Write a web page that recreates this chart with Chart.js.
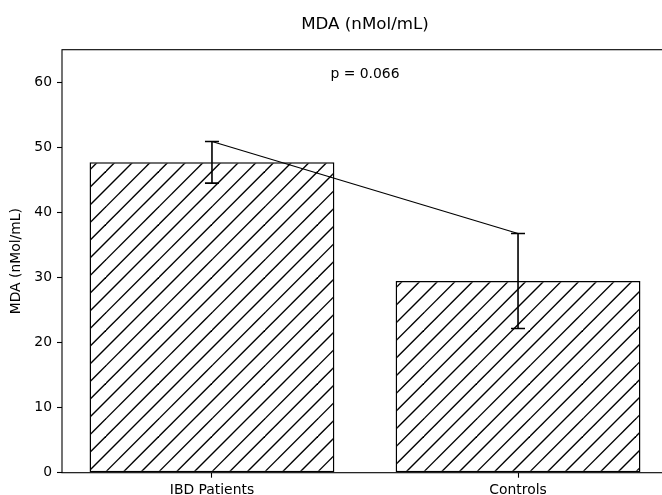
<!DOCTYPE html>
<html>
<head>
<meta charset="utf-8">
<script src="https://cdn.jsdelivr.net/npm/chart.js@4.4.1/dist/chart.umd.min.js"></script>
<style>
    html, body { margin: 0; padding: 0; background: #fff; overflow: hidden; }
    canvas { display: block; }
</style>
</head>
<body>
<canvas id="grafica" width="680" height="495"></canvas>
<script>
const categorias = ["IBD Patients", "Controls"];
const medias = [47.7, 29.45];
const errores = [3.2, 7.3];
const ticksY = [0, 10, 20, 30, 40, 50, 60];
const titulo = "MDA (nMol/mL)";
const tituloY = "MDA (nMol/mL)";
const textoP = "p = 0.066";

const fuente = { family: "'DejaVu Sans'", size: 13.9 };

function crearRayado(ctx) {
    // "//" hatch, 3 lines per 53px tile
    const tam = 53;
    const paso = tam / 3;
    const c = document.createElement("canvas");
    c.width = tam;
    c.height = tam;
    const g = c.getContext("2d");
    g.fillStyle = "#fff";
    g.fillRect(0, 0, tam, tam);
    g.strokeStyle = "#000";
    g.lineWidth = 1.4;
    for (let k = -1; k <= 7; k++) {
        const d = 12.3 + k * paso;
        g.beginPath();
        g.moveTo(d + 10, -10);
        g.lineTo(-10, d + 10);
        g.stroke();
    }
    return ctx.createPattern(c, "repeat");
}

const extras = {
    id: "extras",
    afterDatasetsDraw(chart) {
        const { ctx, chartArea, scales } = chart;
        ctx.save();
        ctx.strokeStyle = "#000";

        // barras de error
        ctx.lineWidth = 1.6;
        medias.forEach((m, i) => {
            const x = scales.x.getPixelForValue(i);
            const yA = scales.y.getPixelForValue(m + errores[i]);
            const yB = scales.y.getPixelForValue(m - errores[i]);
            ctx.beginPath();
            ctx.moveTo(x, yA);
            ctx.lineTo(x, yB);
            ctx.moveTo(x - 7, yA);
            ctx.lineTo(x + 7, yA);
            ctx.moveTo(x - 7, yB);
            ctx.lineTo(x + 7, yB);
            ctx.stroke();
        });

        // marco
        ctx.lineWidth = 1.1;
        ctx.strokeRect(chartArea.left, chartArea.top, chartArea.width, chartArea.height);

        // textos
        const cx = (chartArea.left + chartArea.right) / 2;
        ctx.fillStyle = "#000";
        ctx.textAlign = "center";
        ctx.textBaseline = "alphabetic";
        ctx.font = "16.7px 'DejaVu Sans'";
        ctx.fillText(titulo, cx, 29.3);
        ctx.font = "13.9px 'DejaVu Sans'";
        ctx.fillText(textoP, cx, chartArea.top + 28.6);
        ctx.restore();
    }
};

document.addEventListener("DOMContentLoaded", () => {
    const canvas = document.getElementById("grafica");
    const ctx = canvas.getContext("2d");
    const rayado = crearRayado(ctx);

    new Chart(canvas, {
        data: {
            datasets: [
                {
                    type: "line",
                    order: 1,
                    data: medias.map((m, i) => ({ x: i, y: m + errores[i] })),
                    borderColor: "#000",
                    borderWidth: 1.2,
                    pointRadius: 0,
                    fill: false,
                    tension: 0
                },
                {
                    type: "bar",
                    order: 2,
                    data: medias.map((m, i) => ({ x: i, y: m })),
                    backgroundColor: rayado,
                    borderColor: "#000",
                    borderWidth: 1.5,
                    borderSkipped: false,
                    barPercentage: 0.8,
                    categoryPercentage: 1
                }
            ]
        },
        options: {
            responsive: false,
            animation: false,
            layout: {
                padding: { top: 49.7, right: 12, left: 0, bottom: 0 }
            },
            plugins: {
                legend: { display: false },
                title: { display: false },
                tooltip: { enabled: false }
            },
            scales: {
                x: {
                    type: "linear",
                    min: -0.49,
                    max: 1.49,
                    offset: false,
                    afterBuildTicks: (scale) => {
                        scale.ticks = categorias.map((_, i) => ({ value: i }));
                    },
                    afterFit: (scale) => {
                        scale.height = 22.3;
                    },
                    border: { display: false },
                    grid: {
                        drawOnChartArea: false,
                        offset: false,
                        tickLength: 5,
                        tickColor: "#000",
                        tickWidth: 1.1
                    },
                    ticks: {
                        color: "#000",
                        font: fuente,
                        padding: 4,
                        maxRotation: 0,
                        autoSkip: false,
                        callback: (v) => categorias[v]
                    }
                },
                y: {
                    min: 0,
                    max: 65,
                    afterBuildTicks: (scale) => {
                        scale.ticks = ticksY.map((v) => ({ value: v }));
                    },
                    afterFit: (scale) => {
                        scale.width = 62;
                    },
                    border: { display: false },
                    grid: {
                        drawOnChartArea: false,
                        tickLength: 5,
                        tickColor: "#000",
                        tickWidth: 1.1
                    },
                    ticks: {
                        color: "#000",
                        font: fuente,
                        padding: 5
                    },
                    title: {
                        display: true,
                        text: tituloY,
                        color: "#000",
                        font: fuente,
                        padding: { top: 8, bottom: 0 }
                    }
                }
            }
        },
        plugins: [extras]
    });
});
</script>
</body>
</html>
